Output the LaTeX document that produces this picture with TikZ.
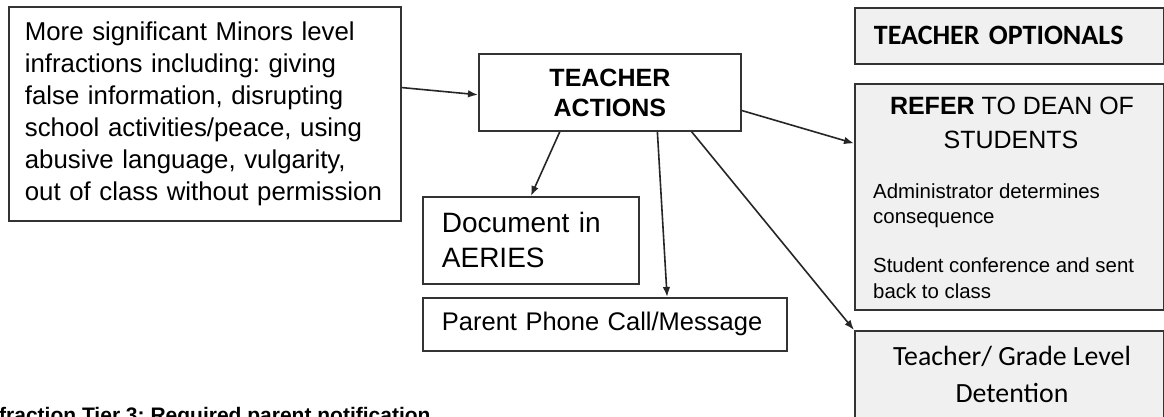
\documentclass[tikz,border=0pt]{standalone}
\usepackage{fontspec}
\setmainfont{Liberation Sans}
\newfontfamily\carl{Carlito}
\usetikzlibrary{arrows.meta,calc}
\definecolor{edge}{HTML}{333333}
\definecolor{panel}{HTML}{F0F0F0}
\frenchspacing
\begin{document}
\begin{tikzpicture}[x=1pt,y=-1pt,
  box/.style={draw=edge, line width=1.8pt, rectangle, anchor=north west, inner sep=0pt},
  gbox/.style={box, fill=panel},
  arr/.style={draw=black!85, line width=1.6pt, -{Latex[length=10pt,width=7.5pt]}},
  lbl/.style={inner sep=0pt, anchor=base west},
  ctr/.style={inner sep=0pt, anchor=base},
]
\path[use as bounding box, clip] (0,0) rectangle (1164,417);
\fill[white] (0,0) rectangle (1164,417);

\node[box, minimum width=392pt, minimum height=214pt, text width=360pt, inner xsep=16pt, align=left,
  font=\fontsize{25.8}{32}\selectfont] (inf) at (8,6)
  {More significant Minors level\\infractions including: giving\\false information, disrupting\\school activities/peace, using\\abusive language, vulgarity,\\out of class without permission};

\node[box, minimum width=262pt, minimum height=77pt, align=center,
  font=\fontsize{25}{30}\selectfont\bfseries] (ta) at (478,53)
  {TEACHER\\ACTIONS};

\node[box, minimum width=216pt, minimum height=87pt, text width=178pt, inner xsep=19pt, align=left,
  font=\fontsize{28}{35}\selectfont] (doc) at (422,196)
  {Document in\\AERIES};

\node[box, minimum width=364pt, minimum height=53pt, text width=326pt, inner xsep=19pt, align=left,
  font=\fontsize{25.5}{30}\selectfont] (par) at (422,297)
  {Parent Phone Call/Message};

\node[gbox, minimum width=309pt, minimum height=56pt, text width=271pt, inner xsep=19pt, align=left,
  font=\carl\fontsize{28}{32}\selectfont\bfseries] (opt) at (854,7)
  {TEACHER OPTIONALS};

\node[gbox, minimum width=309pt, minimum height=226pt] (ref) at (854,83) {};
\node[ctr, font=\fontsize{25}{30}\selectfont] (rh1) at (1012,115) {\textbf{REFER} TO DEAN OF};
\node[ctr, font=\fontsize{25}{30}\selectfont] (rh2) at (1011,148) {STUDENTS};
\node[lbl, font=\fontsize{20.4}{25}\selectfont] (r1) at (873,198) {Administrator determines};
\node[lbl, font=\fontsize{20.4}{25}\selectfont] (r2) at (873,223) {consequence};
\node[lbl, font=\fontsize{20.4}{25}\selectfont] (r3) at (873,272) {Student conference and sent};
\node[lbl, font=\fontsize{20.4}{25}\selectfont] (r4) at (873,298) {back to class};

\node[gbox, minimum width=309pt, minimum height=120pt] (det) at (854,330) {};
\node[ctr, font=\carl\fontsize{27.8}{32}\selectfont] (d1) at (1012,365) {Teacher/ Grade Level};
\node[ctr, font=\carl\fontsize{27.8}{32}\selectfont] (d2) at (1012,402) {Detention};

\node[lbl, font=\fontsize{21}{25}\selectfont\bfseries] (tier) at (-1,422) {fraction Tier 3: Required parent notification};

\draw[arr] ($(inf.north east)!0.378!(inf.south east)$) -- ($(ta.north west)!0.53!(ta.south west)$);
\draw[arr] ($(ta.south west)!0.31!(ta.south east)$) -- (doc.north);
\draw[arr] ($(ta.south west)!0.68!(ta.south east)$) -- ($(par.north west)!0.67!(par.north east)$);
\draw[arr] ($(ta.south west)!0.81!(ta.south east)$) -- (det.north west);
\draw[arr] ($(ta.north east)!0.73!(ta.south east)$) -- ($(ref.north west)!0.265!(ref.south west)$);
\end{tikzpicture}
\end{document}
